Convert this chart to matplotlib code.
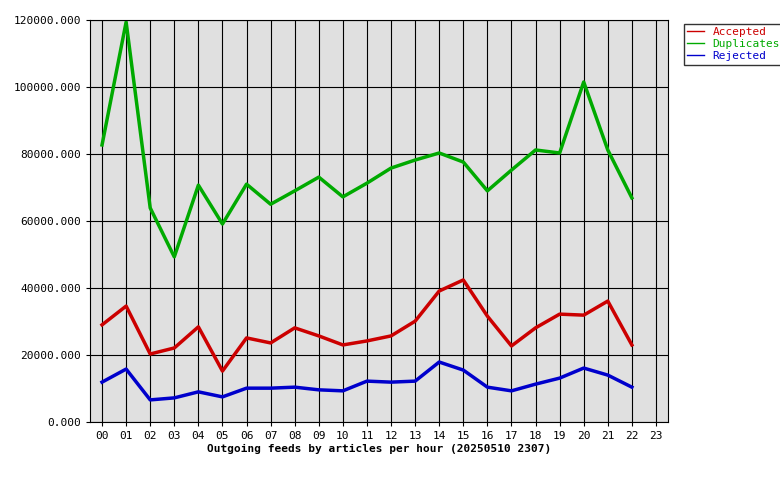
import matplotlib
matplotlib.use("Agg")
import matplotlib.pyplot as plt
from matplotlib.ticker import FuncFormatter

hours = [f"{h:02d}" for h in range(24)]
accepted = [29000,34600,20300,22100,28400,15200,25100,23600,28100,25700,23000,24200,25700,30100,39100,42400,31600,22700,28100,32200,31900,36100,23000]
duplicates = [82700,119400,63900,49300,70700,59100,71000,65000,69000,73100,67200,71300,75800,78200,80300,77600,69000,75200,81200,80300,101500,81200,66900]
rejected = [11900,15800,6600,7200,9000,7500,10100,10100,10400,9600,9300,12200,11900,12200,17900,15500,10400,9300,11300,13100,16100,14000,10400]

plt.rcParams['font.family'] = ['DejaVu Sans Mono']
fig = plt.figure(figsize=(7.8, 4.8), dpi=100)
ax = fig.add_axes([90/780, 58/480, 578/780, 402/480])
ax.set_facecolor('#e0e0e0')
x = list(range(len(accepted)))
ax.plot(x, accepted, color='#cc0000', lw=2.5, label='Accepted')
ax.plot(x, duplicates, color='#00aa00', lw=2.5, label='Duplicates')
ax.plot(x, rejected, color='#0000cc', lw=2.5, label='Rejected')
ax.set_xlim(-0.5, 23.5)
ax.set_ylim(0, 120000)
ax.set_xticks(range(24))
ax.set_xticklabels(hours, fontsize=8)
ax.set_yticks(range(0, 120001, 20000))
ax.yaxis.set_major_formatter(FuncFormatter(lambda v, p: f"{v:.3f}"))
ax.tick_params(labelsize=8, length=3)
ax.grid(True, color='black', lw=0.8)
ax.set_axisbelow(True)
ax.set_xlabel('Outgoing feeds by articles per hour (20250510 2307)', fontsize=8, fontweight='bold', labelpad=2)
leg = fig.legend(loc='upper left', bbox_to_anchor=(678/780, 1-18/480), fontsize=8,
                 frameon=True, fancybox=False, edgecolor='black', handlelength=1.5,
                 borderpad=0.3, labelspacing=0.2)
for t, c in zip(leg.get_texts(), ['#cc0000', '#00aa00', '#0000cc']):
    t.set_color(c)
for l in leg.get_lines():
    l.set_linewidth(1)
fig.savefig('out.png', dpi=100)
